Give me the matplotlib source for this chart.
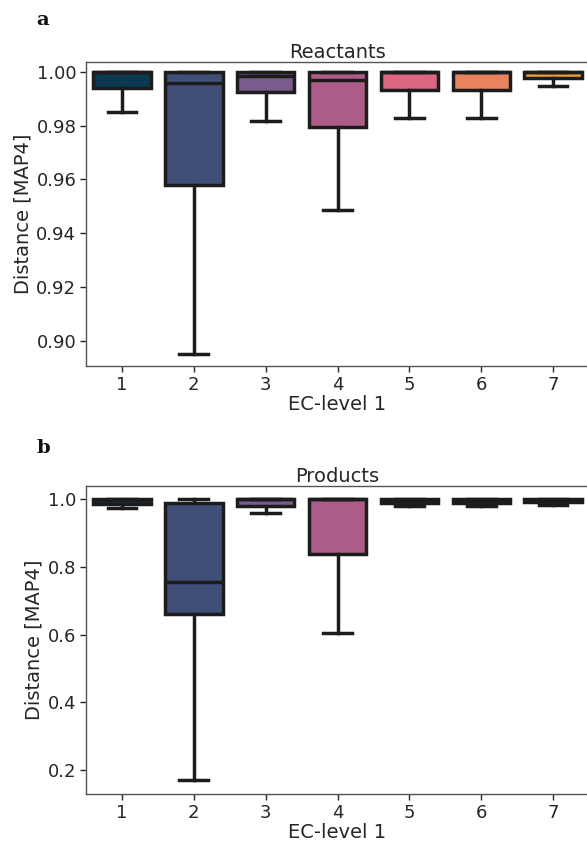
import numpy as np
import matplotlib
matplotlib.use("Agg")
import matplotlib.pyplot as plt

# EC-level 1 classes
ec_classes = ["1", "2", "3", "4", "5", "6", "7"]
box_colors = ["#0d3a52", "#404f78", "#7a5b8d", "#ac5c89", "#dc6680", "#e8825f", "#f0a030"]

# Reactants: box statistics
r_whislo = [0.9852, 0.895, 0.9818, 0.9485, 0.983, 0.983, 0.9949]
r_q1 = [0.9939, 0.958, 0.9924, 0.9794, 0.9933, 0.9933, 0.9979]
r_med = [1.0, 0.9958, 0.9986, 0.997, 1.0, 1.0, 1.0]
r_q3 = [1.0, 1.0, 1.0, 1.0, 1.0, 1.0, 1.0]
r_whishi = [1.0, 1.0, 1.0, 1.0, 1.0, 1.0, 1.0]

# Products
p_whislo = [0.974, 0.170, 0.960, 0.605, 0.981, 0.981, 0.984]
p_q1 = [0.986, 0.660, 0.980, 0.839, 0.990, 0.990, 0.991]
p_med = [0.997, 0.754, 1.0, 1.0, 0.998, 0.998, 0.998]
p_q3 = [1.0, 0.990, 1.0, 1.0, 1.0, 1.0, 1.0]
p_whishi = [1.0, 1.0, 1.0, 1.0, 1.0, 1.0, 1.0]

plt.rcParams['font.family'] = ['DejaVu Sans']
txt = "#262626"
lc = "#1c1c1c"


def make_stats(lo, q1, med, q3, hi):
    stats = []
    for i in range(len(lo)):
        stats.append(dict(whislo=lo[i], q1=q1[i], med=med[i], q3=q3[i], whishi=hi[i], fliers=[]))
    return stats


def draw_panel(ax, stats, title):
    pos = np.arange(len(stats))
    bp = ax.bxp(stats, positions=pos, widths=0.8, patch_artist=True, showfliers=False,
                boxprops=dict(linewidth=2.5, edgecolor=lc),
                medianprops=dict(linewidth=2.5, color=lc),
                whiskerprops=dict(linewidth=2.5, color=lc),
                capprops=dict(linewidth=2.5, color=lc),
                capwidths=0.4)
    for patch, c in zip(bp["boxes"], box_colors):
        patch.set_facecolor(c)
    ax.set_xlim(-0.5, len(stats) - 0.5)
    ax.set_xticks(pos)
    ax.set_xticklabels(ec_classes)
    ax.set_xlabel("EC-level 1", fontsize=14, color=txt, labelpad=1)
    ax.set_ylabel("Distance [MAP4]", fontsize=14, color=txt, labelpad=3)
    ax.set_title(title, fontsize=14, color=txt, pad=3)
    ax.tick_params(labelsize=13, colors=txt, length=4, width=1, pad=3)
    for s in ax.spines.values():
        s.set_color("#555555")
        s.set_linewidth(1)


fig = plt.figure(figsize=(5.87, 8.42), dpi=100)
ax1 = fig.add_axes([0.1465, 0.5653, 0.857, 0.361])
ax2 = fig.add_axes([0.1465, 0.057, 0.857, 0.366])

draw_panel(ax1, make_stats(r_whislo, r_q1, r_med, r_q3, r_whishi), "Reactants")
ax1.set_ylim(0.8905, 1.0037)
ax1.set_yticks([0.90, 0.92, 0.94, 0.96, 0.98, 1.00])
ax1.set_yticklabels(["0.90", "0.92", "0.94", "0.96", "0.98", "1.00"])

draw_panel(ax2, make_stats(p_whislo, p_q1, p_med, p_q3, p_whishi), "Products")
ax2.set_ylim(0.128, 1.04)
ax2.set_yticks([0.2, 0.4, 0.6, 0.8, 1.0])
ax2.set_yticklabels(["0.2", "0.4", "0.6", "0.8", "1.0"])

fig.text(0.062, 0.976, "a", fontsize=14, fontweight="bold", family="serif", color="#111111", va="center")
fig.text(0.062, 0.468, "b", fontsize=14, fontweight="bold", family="serif", color="#111111", va="center")

fig.savefig("out.png", dpi=100)
